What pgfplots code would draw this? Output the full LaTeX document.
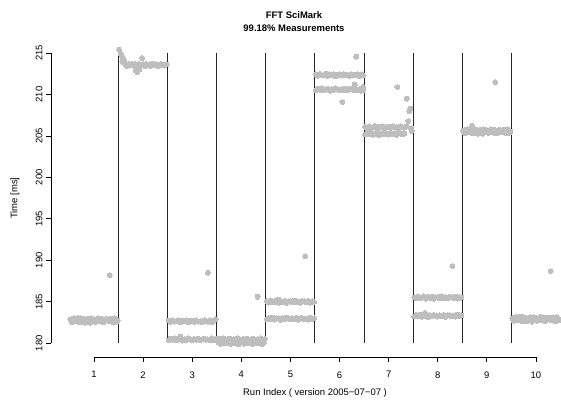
\documentclass[border=0pt]{standalone}
\usepackage{fontspec}
\setmainfont{Liberation Sans}
\usepackage{pgfplots}
\pgfplotsset{compat=1.18}
\definecolor{ptgray}{RGB}{190,190,190}

\begin{document}
\fontsize{7.1}{8.5}\selectfont
\begin{tikzpicture}
\path[use as bounding box] (-38.25pt,-33.75pt) rectangle (382.5pt,267.75pt);
\begin{axis}[
    at={(0,0)}, anchor=south west,
    scale only axis, width=382.5pt, height=237.75pt,
    xmin=0.124, xmax=10.51, ymin=178.33, ymax=216.57,
    axis line style={draw=none},
    xtick={1,...,10}, ytick={180,185,...,215},
    tick pos=left,
    tick align=outside,
    major tick length=3.75pt,
    tick style={black, line width=0.6pt},
    tick label style={font=\fontsize{7.1}{8.5}\selectfont},
    xticklabel style={yshift=-4.5pt},
    yticklabel style={rotate=90, anchor=south},
    /pgf/number format/assume math mode=true,
    clip=false,
    pts/.style={only marks, mark=*, mark size=1.875pt, color=ptgray,
        mark options={draw=ptgray, fill=ptgray, line width=0pt}},
]
% run 1
\addplot[pts] coordinates {
(0.52,182.85)(0.56,182.55)(0.60,182.99)(0.64,182.65)(0.68,182.75)(0.72,183.05)(0.76,182.51)(0.80,182.91)(0.84,182.71)(0.88,182.95)(0.92,182.45)(0.96,182.81)(1.00,182.89)(1.04,182.59)(1.08,183.01)(1.12,182.67)(1.16,182.77)(1.20,182.53)(1.24,182.93)(1.28,182.83)(1.32,182.63)(1.36,182.97)(1.40,182.49)(1.44,182.87)(1.48,182.73)
(0.54,182.59)(0.58,182.95)(0.62,182.71)(0.66,183.03)(0.70,182.53)(0.74,182.81)(0.78,182.91)(0.82,182.47)(0.86,182.85)(0.90,182.63)(0.94,182.99)(0.98,182.75)(1.02,182.57)(1.06,182.89)(1.10,182.69)(1.14,182.97)(1.18,182.51)(1.22,182.83)(1.26,182.93)(1.30,182.65)(1.34,182.79)(1.38,182.55)(1.42,183.01)(1.46,182.61)
(1.32,188.2)
};
% run 2
\addplot[pts] coordinates {
(1.51,215.40)(1.54,214.90)(1.57,214.60)(1.60,214.30)(1.62,214.00)(1.58,213.95)
(1.64,213.60)(1.68,213.45)(1.72,213.67)(1.76,213.50)(1.80,213.55)(1.84,213.70)(1.88,213.43)(1.92,213.63)(1.96,213.53)(2.00,213.65)(2.04,213.40)(2.08,213.58)(2.12,213.62)(2.16,213.47)(2.20,213.68)(2.24,213.51)(2.28,213.56)(2.32,213.44)(2.36,213.64)(2.40,213.59)(2.44,213.49)(2.48,213.66)
(1.66,213.47)(1.70,213.65)(1.74,213.53)(1.78,213.69)(1.82,213.44)(1.86,213.58)(1.90,213.63)(1.94,213.41)(1.98,213.60)(2.02,213.49)(2.06,213.67)(2.10,213.55)(2.14,213.46)(2.18,213.62)(2.22,213.52)(2.26,213.66)(2.30,213.43)(2.34,213.59)(2.38,213.64)(2.42,213.50)(2.46,213.57)
(1.85,212.90)(1.88,212.70)(1.92,213.00)(1.98,214.40)
};
% run 3
\addplot[pts] coordinates {
(2.52,182.70)(2.56,182.55)(2.60,182.77)(2.64,182.60)(2.68,182.65)(2.72,182.80)(2.76,182.53)(2.80,182.73)(2.84,182.63)(2.88,182.75)(2.92,182.50)(2.96,182.68)(3.00,182.72)(3.04,182.57)(3.08,182.78)(3.12,182.61)(3.16,182.66)(3.20,182.54)(3.24,182.74)(3.28,182.69)(3.32,182.59)(3.36,182.76)(3.40,182.52)(3.44,182.71)(3.48,182.90)
(2.52,180.37)(2.56,180.55)(2.60,180.43)(2.64,180.59)(2.68,180.34)(2.72,180.48)(2.76,180.53)(2.80,180.31)(2.84,180.50)(2.88,180.39)(2.92,180.57)(2.96,180.45)(3.00,180.36)(3.04,180.52)(3.08,180.42)(3.12,180.56)(3.16,180.33)(3.20,180.49)(3.24,180.54)(3.28,180.40)(3.32,180.47)(3.36,180.35)(3.40,180.58)(3.44,180.38)(3.48,180.51)
(2.76,180.80)(3.32,188.50)
};
% run 4
\addplot[pts] coordinates {
(3.52,180.37)(3.56,180.55)(3.60,180.43)(3.64,180.59)(3.68,180.34)(3.72,180.48)(3.76,180.53)(3.80,180.31)(3.84,180.50)(3.88,180.39)(3.92,180.57)(3.96,180.45)(4.00,180.36)(4.04,180.52)(4.08,180.42)(4.12,180.56)(4.16,180.33)(4.20,180.49)(4.24,180.54)(4.28,180.40)(4.32,180.47)(4.36,180.35)(4.40,180.58)(4.44,180.38)(4.48,180.51)
(3.54,180.07)(3.58,179.92)(3.62,180.14)(3.66,179.97)(3.70,180.02)(3.74,180.17)(3.78,179.90)(3.82,180.10)(3.86,180.00)(3.90,180.12)(3.94,179.87)(3.98,180.05)(4.02,180.09)(4.06,179.94)(4.10,180.15)(4.14,179.98)(4.18,180.03)(4.22,179.91)(4.26,180.11)(4.30,180.06)(4.34,179.96)(4.38,180.13)(4.42,179.89)(4.46,180.08)
(4.33,185.60)
};
% run 5
\addplot[pts] coordinates {
(4.52,185.05)(4.56,184.90)(4.60,185.12)(4.64,184.95)(4.68,185.00)(4.72,185.15)(4.76,184.88)(4.80,185.08)(4.84,184.98)(4.88,185.10)(4.92,184.85)(4.96,185.03)(5.00,185.07)(5.04,184.92)(5.08,185.13)(5.12,184.96)(5.16,185.01)(5.20,184.89)(5.24,185.09)(5.28,185.04)(5.32,184.94)(5.36,185.11)(5.40,184.87)(5.44,185.06)(5.48,184.99)
(4.52,182.87)(4.56,183.05)(4.60,182.93)(4.64,183.09)(4.68,182.84)(4.72,182.98)(4.76,183.03)(4.80,182.81)(4.84,183.00)(4.88,182.89)(4.92,183.07)(4.96,182.95)(5.00,182.86)(5.04,183.02)(5.08,182.92)(5.12,183.06)(5.16,182.83)(5.20,182.99)(5.24,183.04)(5.28,182.90)(5.32,182.97)(5.36,182.85)(5.40,183.08)(5.44,182.88)(5.48,183.01)
(4.76,185.25)(5.30,190.50)
};
% run 6
\addplot[pts] coordinates {
(5.52,212.45)(5.56,212.25)(5.60,212.47)(5.64,212.30)(5.68,212.35)(5.72,212.50)(5.76,212.23)(5.80,212.43)(5.84,212.33)(5.88,212.45)(5.92,212.20)(5.96,212.38)(6.00,212.42)(6.04,212.27)(6.08,212.48)(6.12,212.31)(6.16,212.36)(6.20,212.24)(6.24,212.44)(6.28,212.39)(6.32,212.29)(6.36,212.46)(6.40,212.22)(6.44,212.41)(6.48,212.34)
(5.52,210.52)(5.56,210.70)(5.60,210.58)(5.64,210.74)(5.68,210.49)(5.72,210.63)(5.76,210.68)(5.80,210.46)(5.84,210.65)(5.88,210.54)(5.92,210.72)(5.96,210.60)(6.00,210.51)(6.04,210.67)(6.08,210.57)(6.12,210.71)(6.16,210.48)(6.20,210.64)(6.24,210.69)(6.28,210.55)(6.32,210.62)(6.36,210.50)(6.40,210.60)(6.44,210.45)(6.48,210.50)
(6.34,214.55)(6.06,209.10)(6.31,211.20)(6.48,210.90)
};
% run 7
\addplot[pts] coordinates {
(6.52,206.10)(6.56,205.95)(6.60,206.17)(6.64,206.00)(6.68,206.05)(6.72,206.20)(6.76,205.93)(6.80,206.13)(6.84,206.03)(6.88,206.15)(6.92,205.90)(6.96,206.08)(7.00,206.12)(7.04,205.97)(7.08,206.18)(7.12,206.01)(7.16,206.06)(7.20,205.94)(7.24,206.14)(7.28,206.09)(7.32,205.99)(7.36,206.16)
(6.52,205.17)(6.56,205.35)(6.60,205.23)(6.64,205.39)(6.68,205.14)(6.72,205.28)(6.76,205.33)(6.80,205.11)(6.84,205.30)(6.88,205.19)(6.92,205.37)(6.96,205.25)(7.00,205.16)(7.04,205.32)(7.08,205.22)(7.12,205.36)(7.16,205.13)(7.20,205.29)(7.24,205.34)(7.28,205.20)(7.32,205.27)
(7.18,210.90)(7.37,209.50)(7.44,208.30)(7.42,208.00)(7.40,206.80)(7.47,205.60)(7.46,205.90)
};
% run 8
\addplot[pts] coordinates {
(7.52,185.55)(7.56,185.40)(7.60,185.62)(7.64,185.45)(7.68,185.50)(7.72,185.65)(7.76,185.38)(7.80,185.58)(7.84,185.48)(7.88,185.60)(7.92,185.35)(7.96,185.53)(8.00,185.57)(8.04,185.42)(8.08,185.63)(8.12,185.46)(8.16,185.51)(8.20,185.39)(8.24,185.59)(8.28,185.54)(8.32,185.44)(8.36,185.61)(8.40,185.37)(8.44,185.56)(8.48,185.49)
(7.52,183.22)(7.56,183.40)(7.60,183.28)(7.64,183.44)(7.68,183.19)(7.72,183.33)(7.76,183.38)(7.80,183.16)(7.84,183.35)(7.88,183.24)(7.92,183.42)(7.96,183.30)(8.00,183.21)(8.04,183.37)(8.08,183.27)(8.12,183.41)(8.16,183.18)(8.20,183.34)(8.24,183.39)(8.28,183.25)(8.32,183.32)(8.36,183.20)(8.40,183.43)(8.44,183.23)(8.48,183.36)
(7.74,183.65)(8.30,189.30)
};
% run 9
\addplot[pts] coordinates {
(8.52,205.65)(8.56,205.35)(8.60,205.79)(8.64,205.45)(8.68,205.55)(8.72,205.85)(8.76,205.31)(8.80,205.71)(8.84,205.51)(8.88,205.75)(8.92,205.25)(8.96,205.61)(9.00,205.69)(9.04,205.39)(9.08,205.81)(9.12,205.47)(9.16,205.57)(9.20,205.33)(9.24,205.73)(9.28,205.63)(9.32,205.43)(9.36,205.77)(9.40,205.29)(9.44,205.67)(9.48,205.53)
(8.54,205.39)(8.58,205.75)(8.62,205.51)(8.66,205.83)(8.70,205.33)(8.74,205.61)(8.78,205.71)(8.82,205.27)(8.86,205.65)(8.90,205.43)(8.94,205.79)(8.98,205.55)(9.02,205.37)(9.06,205.69)(9.10,205.49)(9.14,205.77)(9.18,205.31)(9.22,205.63)(9.26,205.73)(9.30,205.45)(9.34,205.59)(9.38,205.35)(9.42,205.81)(9.46,205.41)
(8.70,206.25)(9.17,211.50)
};
% run 10
\addplot[pts] coordinates {
(9.52,183.00)(9.56,182.70)(9.60,183.14)(9.64,182.80)(9.68,182.90)(9.72,183.20)(9.76,182.66)(9.80,183.06)(9.84,182.86)(9.88,183.10)(9.92,182.60)(9.96,182.96)(10.00,183.04)(10.04,182.74)(10.08,183.16)(10.12,182.82)(10.16,182.92)(10.20,182.68)(10.24,183.08)(10.28,182.98)(10.32,182.78)(10.36,183.12)(10.40,182.64)(10.44,183.02)(10.48,182.88)
(9.54,182.74)(9.58,183.10)(9.62,182.86)(9.66,183.18)(9.70,182.68)(9.74,182.96)(9.78,183.06)(9.82,182.62)(9.86,183.00)(9.90,182.78)(9.94,183.14)(9.98,182.90)(10.02,182.72)(10.06,183.04)(10.10,182.84)(10.14,183.12)(10.18,182.66)(10.22,182.98)(10.26,183.08)(10.30,182.80)(10.34,182.94)(10.38,182.70)(10.42,183.16)(10.46,182.76)
(10.30,188.70)
};
% run separators
\addplot[black!85, line width=0.75pt, mark=none, unbounded coords=jump] coordinates {
(1.5,180)(1.5,215)(1.5,nan)
(2.5,180)(2.5,215)(2.5,nan)
(3.5,180)(3.5,215)(3.5,nan)
(4.5,180)(4.5,215)(4.5,nan)
(5.5,180)(5.5,215)(5.5,nan)
(6.5,180)(6.5,215)(6.5,nan)
(7.5,180)(7.5,215)(7.5,nan)
(8.5,180)(8.5,215)(8.5,nan)
(9.5,180)(9.5,215)
};
% R style axis lines
\draw[line width=0.6pt] (axis cs:1,178.33) -- (axis cs:10,178.33);
\draw[line width=0.6pt] (axis cs:0.124,180) -- (axis cs:0.124,215);
\end{axis}
\node at (198pt,-27pt) {Run Index ( version 2005−07−07 )};
\node[rotate=90] at (-27pt,119.25pt) {Time [ms]};
\node[font=\bfseries] at (182.25pt,256.5pt) {FFT SciMark};
\node[font=\bfseries] at (182.25pt,246.75pt) {99.18\% Measurements};
\end{tikzpicture}
\end{document}
